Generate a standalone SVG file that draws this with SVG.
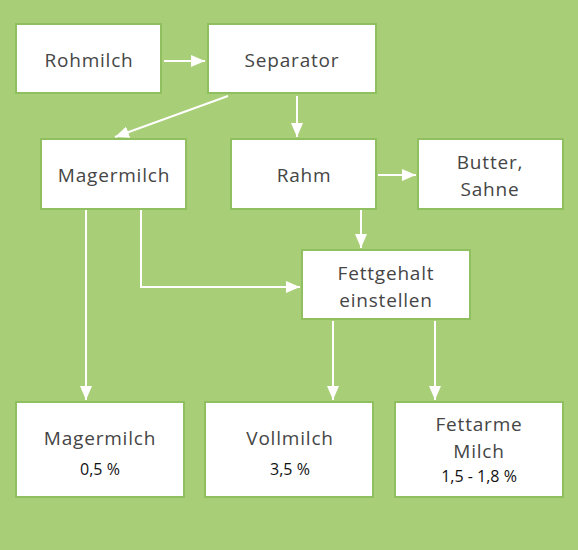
<svg xmlns="http://www.w3.org/2000/svg" width="578" height="550" viewBox="0 0 578 550">
<defs>
<style>
.box{fill:#ffffff;stroke:#8fbf5e;stroke-width:2}
.t{font-family:"Open Sans","Noto Sans",sans-serif;font-size:19px;fill:#454545;text-anchor:middle;letter-spacing:0.8px}
.p{font-family:"Open Sans","Noto Sans",sans-serif;font-size:16px;fill:#111111;text-anchor:middle}
.c{fill:none;stroke:#ffffff;stroke-width:2}
</style>
<marker id="a" viewBox="0 0 14 12" refX="14" refY="6" markerWidth="14" markerHeight="12" markerUnits="userSpaceOnUse" orient="auto">
<path d="M0,0 L14,6 L0,12 z" fill="#ffffff"/>
</marker>
</defs>
<rect x="0" y="0" width="578" height="550" fill="#a9ce78"/>
<g id="connectors">
<line class="c" x1="164" y1="61" x2="205" y2="61" marker-end="url(#a)"/>
<line class="c" x1="228" y1="96" x2="115" y2="137" marker-end="url(#a)"/>
<line class="c" x1="297" y1="96" x2="297" y2="137" marker-end="url(#a)"/>
<line class="c" x1="378" y1="175" x2="416" y2="175" marker-end="url(#a)"/>
<line class="c" x1="361" y1="210" x2="361" y2="248" marker-end="url(#a)"/>
<line class="c" x1="86" y1="210" x2="86" y2="400" marker-end="url(#a)"/>
<polyline class="c" points="141,210 141,287 300,287" marker-end="url(#a)"/>
<line class="c" x1="333" y1="321" x2="333" y2="400" marker-end="url(#a)"/>
<line class="c" x1="435" y1="321" x2="435" y2="400" marker-end="url(#a)"/>
</g>
<g id="rohmilch"><rect class="box" x="16" y="24" width="145" height="69"/><text class="t" x="89" y="67">Rohmilch</text></g>
<g id="separator"><rect class="box" x="208" y="24" width="168" height="69"/><text class="t" x="292" y="67">Separator</text></g>
<g id="magermilch"><rect class="box" x="41" y="139" width="145" height="70"/><text class="t" x="114" y="182">Magermilch</text></g>
<g id="rahm"><rect class="box" x="231" y="139" width="145" height="70"/><text class="t" x="304" y="182">Rahm</text></g>
<g id="butter"><rect class="box" x="418" y="139" width="145" height="70"/><text class="t" x="490" y="169">Butter,</text><text class="t" x="490" y="196">Sahne</text></g>
<g id="fettgehalt"><rect class="box" x="302" y="250" width="168" height="69"/><text class="t" x="386" y="280">Fettgehalt</text><text class="t" x="386" y="307">einstellen</text></g>
<g id="magermilch2"><rect class="box" x="16" y="402" width="168" height="95"/><text class="t" x="100" y="445">Magermilch</text><text class="p" x="100" y="475">0,5 %</text></g>
<g id="vollmilch"><rect class="box" x="205" y="402" width="168" height="95"/><text class="t" x="290" y="445">Vollmilch</text><text class="p" x="290" y="475">3,5 %</text></g>
<g id="fettarme"><rect class="box" x="395" y="402" width="168" height="95"/><text class="t" x="479" y="431">Fettarme</text><text class="t" x="479" y="458">Milch</text><text class="p" x="479" y="482">1,5 - 1,8 %</text></g>
</svg>
